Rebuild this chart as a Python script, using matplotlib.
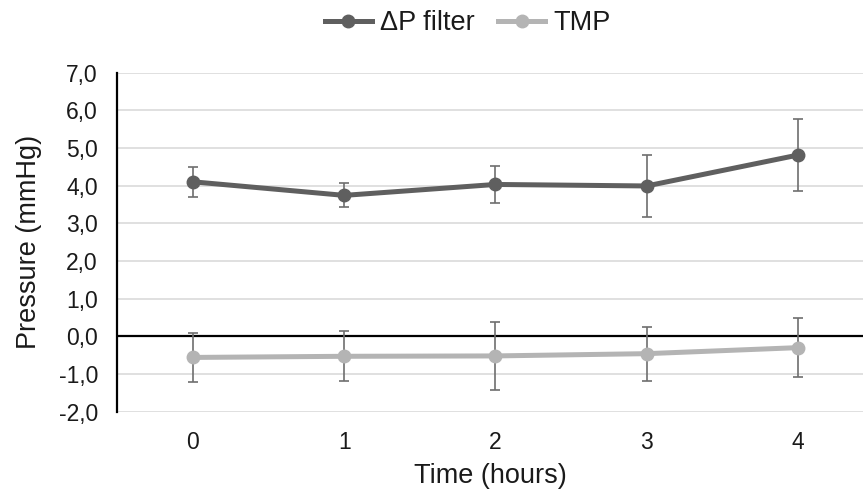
import numpy as np
import matplotlib.pyplot as plt
from matplotlib.lines import Line2D
from matplotlib.ticker import FuncFormatter

plt.rcParams['font.family'] = ['Liberation Sans', 'DejaVu Sans']

hours = [0, 1, 2, 3, 4]
dp_filter = [4.10, 3.74, 4.03, 3.99, 4.81]
dp_err = [0.40, 0.32, 0.48, 0.82, 0.95]
tmp = [-0.56, -0.53, -0.52, -0.46, -0.30]
tmp_err = [0.65, 0.66, 0.90, 0.72, 0.79]

dark = '#5f5f5f'
light = '#b4b4b4'
txt = '#1a1a1a'

fig = plt.figure(figsize=(8.63, 4.94), dpi=100)
ax = fig.add_axes([0.136, 0.1666, 0.864, 0.6866])

ax.errorbar(hours, dp_filter, yerr=dp_err, color=dark, linewidth=3.6,
            marker='o', markersize=9, ecolor='#6e6e6e', elinewidth=1.2,
            capsize=3.5, capthick=1.2, zorder=4)
ax.errorbar(hours, tmp, yerr=tmp_err, color=light, linewidth=3.6,
            marker='o', markersize=9, ecolor='#6e6e6e', elinewidth=1.2,
            capsize=3.5, capthick=1.2, zorder=4)

ax.axhline(0, color='black', linewidth=1.6, zorder=3)
ax.set_xlim(-0.5, 4.43)
ax.set_ylim(-2, 7)
ax.set_yticks(np.arange(-2, 7.1, 1))
ax.set_xticks(hours)
ax.yaxis.set_major_formatter(FuncFormatter(lambda v, p: ('%.1f' % v).replace('.', ',')))
ax.grid(True, axis='y', color='#dadada', linewidth=1.2, zorder=0)
ax.set_axisbelow(True)
for s in ['top', 'right', 'bottom']:
    ax.spines[s].set_visible(False)
ax.spines['left'].set_linewidth(1.6)
ax.tick_params(axis='both', length=0, labelsize=16.5, colors=txt)
ax.tick_params(axis='y', pad=14)
ax.tick_params(axis='x', pad=14)

ax.set_xlabel('Time (hours)', fontsize=19.5, color=txt)
ax.set_ylabel('Pressure (mmHg)', fontsize=19.5, color=txt)
ax.xaxis.set_label_coords(0.5, -0.15)
ax.yaxis.set_label_coords(-0.101, 0.5)

handles = [Line2D([], [], color=dark, linewidth=3.6, marker='o', markersize=9),
           Line2D([], [], color=light, linewidth=3.6, marker='o', markersize=9)]
fig.legend(handles, [u'\u0394P filter', 'TMP'], loc='center', bbox_to_anchor=(0.542, 0.953),
           ncol=2, frameon=False, fontsize=19.5, handlelength=1.75, columnspacing=0.85,
           handletextpad=0.3, labelcolor=txt)

plt.savefig('out.png', dpi=100)
